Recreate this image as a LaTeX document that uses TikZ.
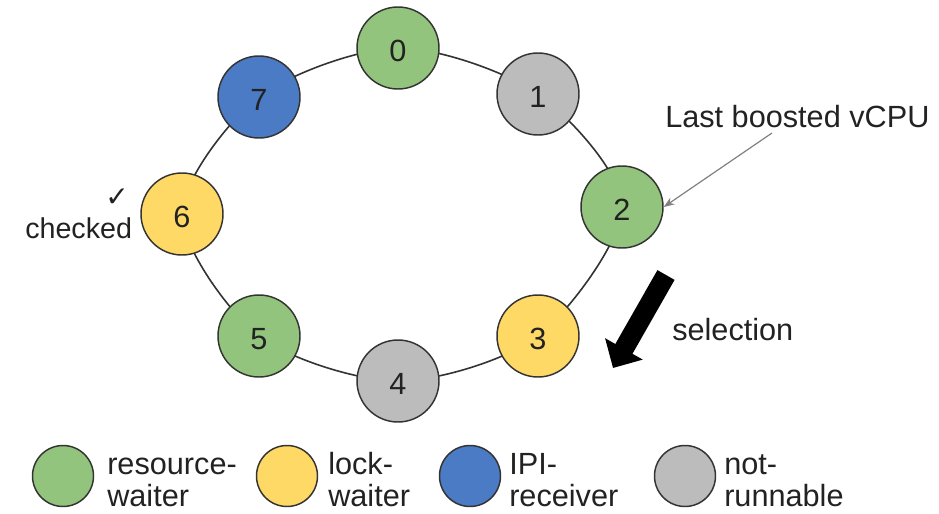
\documentclass[tikz,border=0pt]{standalone}
\usepackage{fontspec}
\setmainfont{Liberation Sans}
\newfontfamily\symfont{DejaVu Sans}
\usetikzlibrary{arrows.meta}
\definecolor{gfill}{HTML}{93C47D}
\definecolor{yfill}{HTML}{FFD966}
\definecolor{bfill}{HTML}{4A7BC4}
\definecolor{nfill}{HTML}{BCBCBC}
\definecolor{edgec}{HTML}{333333}
\definecolor{txtc}{HTML}{222222}
\tikzset{
  vcpu/.style={circle, draw=edgec, line width=1.1pt, minimum size=61.5pt, inner sep=0pt,
    font=\fontsize{23}{27}\selectfont, text=txtc, text height=20pt, text depth=0pt},
  legdot/.style={circle, draw=edgec, line width=1.1pt, minimum size=45.75pt, inner sep=0pt},
  txt/.style={font=\fontsize{23}{27}\selectfont, inner sep=0pt, text=txtc},
  ring/.style={draw=edgec, line width=1.2pt},
  pointer/.style={draw=gray, line width=0.9pt, -{Stealth[length=8pt,width=6pt]}},
  bigarrow/.style={draw=black, line width=14.8pt, -{Triangle[width=31.5pt,length=16.5pt]}},
}
\begin{document}
\begin{tikzpicture}[x=0.75pt,y=-0.75pt]
\useasboundingbox (0,0) rectangle (939,514);
% ring positions
\coordinate (c0) at (398,48);
\coordinate (c1) at (538,94);
\coordinate (c2) at (622,207);
\coordinate (c3) at (538,336);
\coordinate (c4) at (398,381);
\coordinate (c5) at (259,336);
\coordinate (c6) at (182,214);
\coordinate (c7) at (259,97);
\draw[ring] plot[smooth cycle] coordinates {(c0) (c1) (c2) (c3) (c4) (c5) (c6) (c7)};
% vCPU nodes
\node[vcpu, fill=gfill] (n0) at (c0) {0};
\node[vcpu, fill=nfill] (n1) at (c1) {1};
\node[vcpu, fill=gfill] (n2) at (c2) {2};
\node[vcpu, fill=yfill] (n3) at (c3) {3};
\node[vcpu, fill=nfill] (n4) at (c4) {4};
\node[vcpu, fill=gfill] (n5) at (c5) {5};
\node[vcpu, fill=yfill] (n6) at (c6) {6};
\node[vcpu, fill=bfill] (n7) at (c7) {7};
% last boosted
\node[txt, anchor=base west] (lb) at (665,127) {Last boosted vCPU};
\coordinate (lbs) at (772,133);
\draw[pointer] (lbs) -- (n2.east);
% checked
\node[txt, font=\fontsize{21.5}{25}\selectfont, anchor=base west] (chk) at (25,238) {checked};
\node[inner sep=0pt, text=txtc, font=\symfont\fontsize{21}{24}\selectfont] (tick) at (117,198) {✓};
% selection
\coordinate (selS) at (666,275);
\coordinate (selT) at (613,368);
\draw[bigarrow] (selS) -- (selT);
\node[txt, anchor=base west] (sel) at (672,340) {selection};
% legend
\node[legdot, fill=gfill] (l1) at (63,476) {};
\node[txt, anchor=base west] (l1a) at (107,474) {resource-};
\node[txt, anchor=base west] (l1b) at (107,506) {waiter};
\node[legdot, fill=yfill] (l2) at (287,476) {};
\node[txt, anchor=base west] (l2a) at (328,474) {lock-};
\node[txt, anchor=base west] (l2b) at (328,506) {waiter};
\node[legdot, fill=bfill] (l3) at (470,476) {};
\node[txt, anchor=base west] (l3a) at (509,474) {IPI-};
\node[txt, anchor=base west] (l3b) at (509,506) {receiver};
\node[legdot, fill=nfill] (l4) at (685,476) {};
\node[txt, anchor=base west] (l4a) at (724,474) {not-};
\node[txt, anchor=base west] (l4b) at (724,506) {runnable};
\end{tikzpicture}
\end{document}
